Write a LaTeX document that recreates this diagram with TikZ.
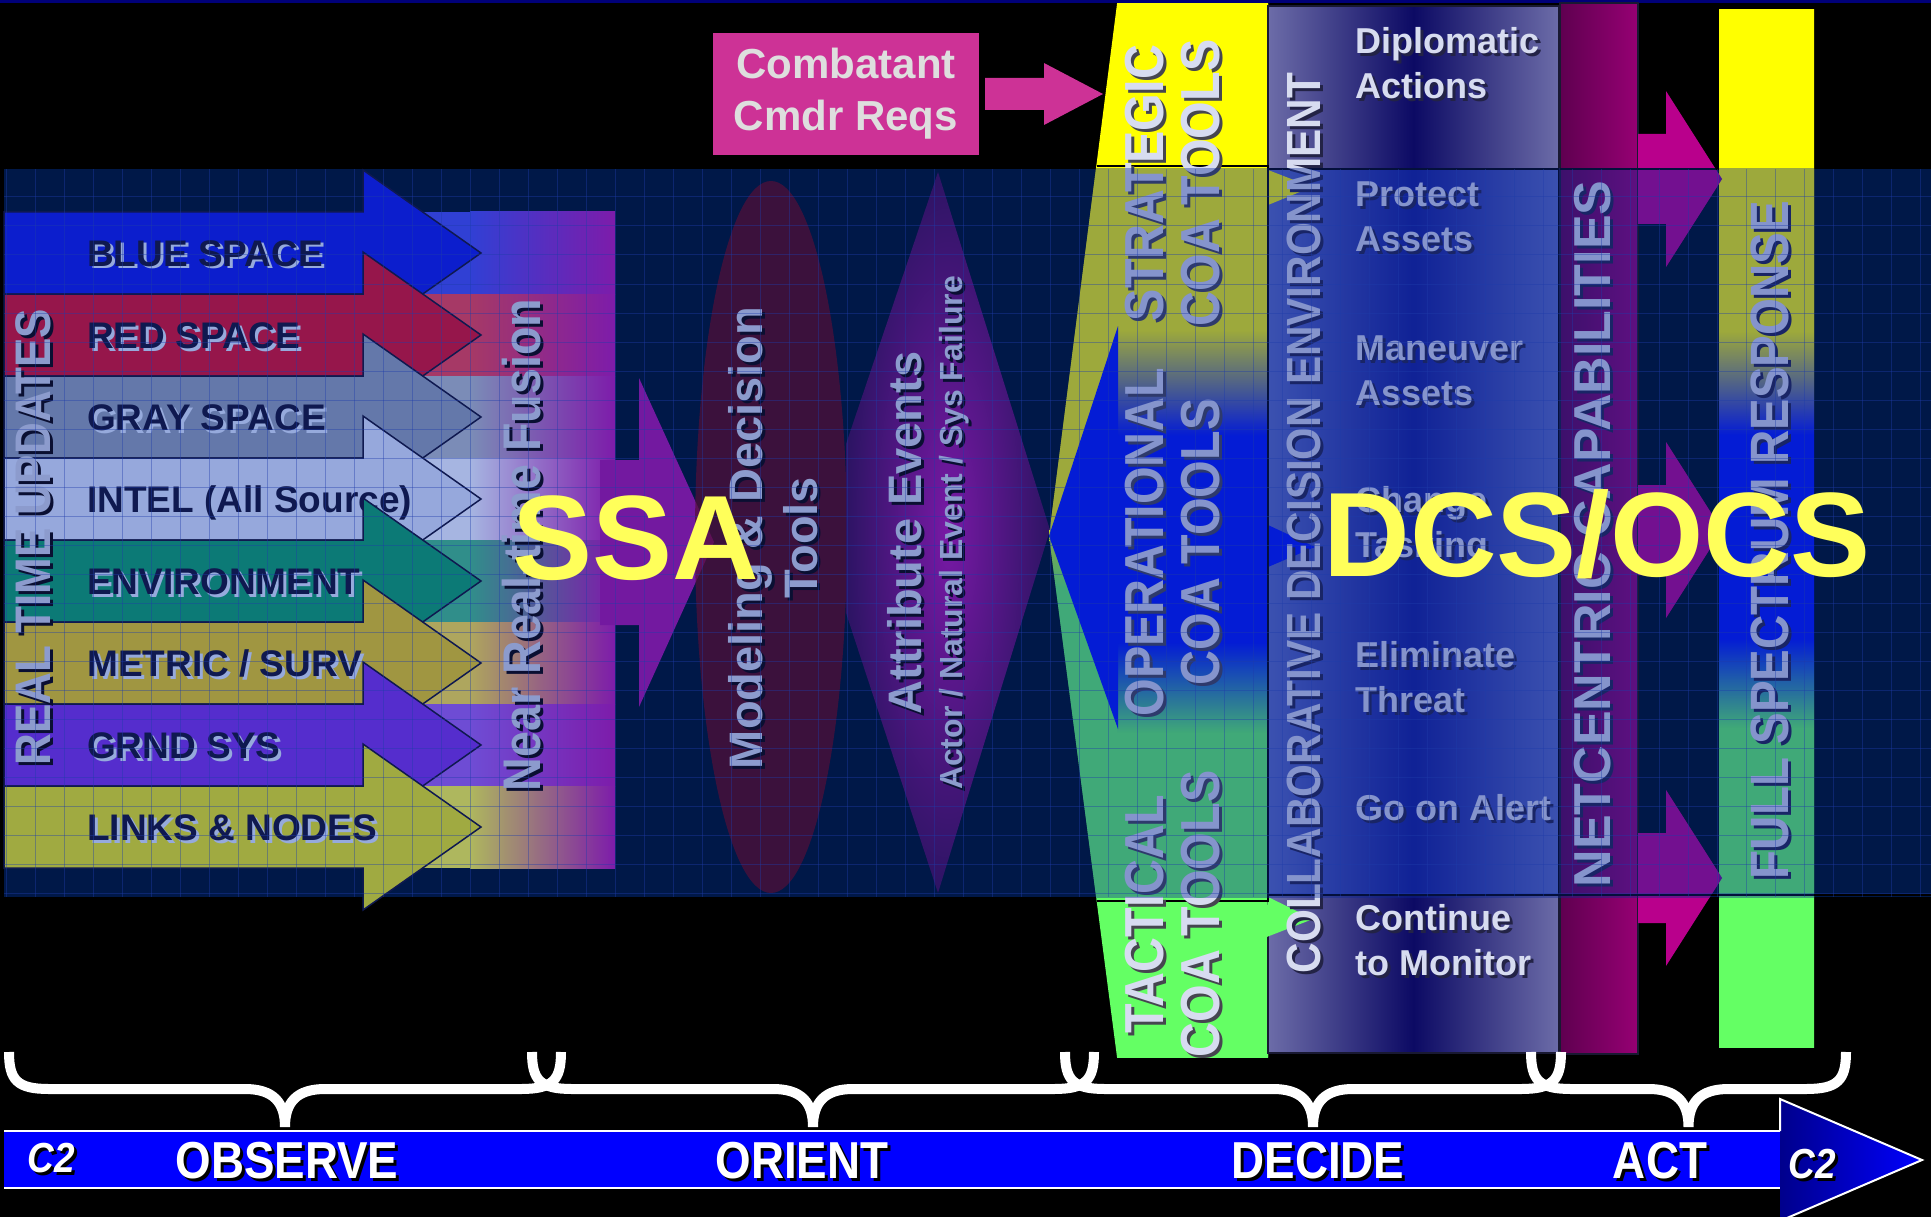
\documentclass[tikz,border=0pt]{standalone}
\usepackage{fontspec}
\setmainfont{Liberation Sans}
\newfontfamily\nfont[FakeStretch=0.88]{Liberation Sans}
\definecolor{bandnavy}{RGB}{0,24,72}
\definecolor{gridblue}{RGB}{30,60,170}
\definecolor{topline}{RGB}{0,0,120}
\definecolor{rowblue}{RGB}{12,30,205}
\definecolor{rowred}{RGB}{150,22,75}
\definecolor{rowgray}{RGB}{100,120,170}
\definecolor{rowintel}{RGB}{150,168,220}
\definecolor{rowenv}{RGB}{12,122,118}
\definecolor{rowmetric}{RGB}{160,150,65}
\definecolor{rowgrnd}{RGB}{85,45,205}
\definecolor{rowlinks}{RGB}{160,170,65}
\definecolor{rowink}{RGB}{15,25,80}
\definecolor{rowglow}{RGB}{150,170,220}
\definecolor{pale}{RGB}{140,155,205}
\definecolor{paleshadow}{RGB}{10,15,50}
\definecolor{fusepurple}{RGB}{125,28,170}
\definecolor{ssapurple}{RGB}{115,25,160}
\definecolor{modelred}{RGB}{85,15,55}
\definecolor{attrin}{RGB}{120,25,165}
\definecolor{attrout}{RGB}{45,20,100}
\definecolor{cmdrpink}{RGB}{205,50,150}
\definecolor{cmdrtext}{RGB}{222,222,222}
\definecolor{coayellow}{RGB}{255,255,0}
\definecolor{coablue}{RGB}{0,20,255}
\definecolor{coagreen}{RGB}{100,255,100}
\definecolor{collight}{RGB}{108,108,168}
\definecolor{coldark}{RGB}{12,10,100}
\definecolor{coledge}{RGB}{25,25,50}
\definecolor{bandlight}{RGB}{93,110,195}
\definecolor{banddark}{RGB}{20,30,150}
\definecolor{netdark}{RGB}{95,0,80}
\definecolor{netlight}{RGB}{150,0,115}
\definecolor{netmag}{RGB}{185,0,140}
\definecolor{colink}{RGB}{215,220,240}
\definecolor{colshadow}{RGB}{35,35,70}
\definecolor{coashadow}{RGB}{70,70,80}
\definecolor{veil}{RGB}{10,40,150}
\definecolor{bigyellow}{RGB}{255,255,90}
\definecolor{barblue}{RGB}{0,0,255}
\definecolor{bardark}{RGB}{0,0,140}
\pgfdeclareverticalshading{coashade}{100bp}{color(0bp)=(coagreen); color(40.4bp)=(coagreen); color(44.7bp)=(coablue); color(54.5bp)=(coablue); color(59.5bp)=(coayellow); color(100bp)=(coayellow)}
\pgfdeclareverticalshading{fanshade}{100bp}{color(0bp)=(coagreen); color(47.3bp)=(coagreen); color(50.6bp)=(coayellow); color(100bp)=(coayellow)}
\newcommand{\shnode}[5]{%
\node[xshift=3pt,yshift=-3pt,#1,text=#4] at (#3) {#5};
\node[#1] (#2) at (#3) {#5};}
\newcommand{\phasebrace}[2]{%
\pgfmathsetmacro{\brmid}{(#1+#2)/2}
\draw[bracestyle] (#1,1052) .. controls (#1,1080) and (#1+8,1089) .. (#1+40,1089)
 -- (\brmid-40,1089) .. controls (\brmid-12,1089) and (\brmid,1102) .. (\brmid,1127)
 .. controls (\brmid,1102) and (\brmid+12,1089) .. (\brmid+40,1089)
 -- (#2-40,1089) .. controls (#2-8,1089) and (#2,1080) .. (#2,1052);}
\begin{document}
\begin{tikzpicture}[x=1pt,y=-1pt,
 rowedge/.style={draw=rowink,line width=1.5pt},
 rowlbl/.style={anchor=base west,inner sep=0pt,font=\bfseries\fontsize{37}{40}\selectfont},
 vlbl/.style={rotate=90,inner sep=0pt,align=center},
 item/.style={anchor=west,inner sep=0pt,align=left,font=\bfseries\fontsize{36}{45}\selectfont},
 phase/.style={anchor=base,inner sep=0pt,font=\nfont\bfseries\fontsize{52}{52}\selectfont},
 bigtag/.style={anchor=base,inner sep=0pt,text=bigyellow,font=\bfseries\fontsize{120}{120}\selectfont},
 gridline/.style={gridblue,line width=1pt,opacity=.4},
 bracestyle/.style={white,line width=10pt},
 veilfill/.style={fill=veil,fill opacity=.4}]
\useasboundingbox (0,0) rectangle (1931,1217);
%фон
\fill[black] (0,0) rectangle (1931,1217);
\fill[topline] (0,0) rectangle (1931,3);
\fill[bandnavy] (4,169) rectangle (1931,897);
%полосы слияния
\foreach \i/\rc in {0/rowblue,1/rowred,2/rowgray,3/rowintel,4/rowenv,5/rowmetric,6/rowgrnd,7/rowlinks}{
 \pgfmathsetmacro{\yt}{212+82*\i}
 \fill[\rc!85!white] (363,\yt) rectangle (470,\yt+82);
 \shade[left color=\rc!85!white,right color=fusepurple] (470,\yt) rectangle (615,\yt+82);
}
%стрелка SSA
\fill[ssapurple] (600,460) -- (639,460) -- (639,378) -- (714,542) -- (639,707) -- (639,625) -- (600,625) -- cycle;
\fill[modelred,opacity=.7] (771,537) ellipse [x radius=76, y radius=356];
\shade[inner color=attrin,outer color=attrout] (938,172) -- (1050,530) -- (938,893) -- (846,613) -- (846,444) -- cycle;
%стрелки наблюдения
\foreach \i/\rc/\rt in {0/rowblue/BLUE SPACE,1/rowred/RED SPACE,2/rowgray/GRAY SPACE,3/rowintel/{INTEL (All Source)},4/rowenv/ENVIRONMENT,5/rowmetric/{METRIC / SURV},6/rowgrnd/GRND SYS,7/rowlinks/{LINKS \& NODES}}{
 \pgfmathsetmacro{\yt}{212+82*\i}
 \pgfmathsetmacro{\yc}{\yt+41}
 \draw[rowedge,fill=\rc] (4,\yt) -- (363,\yt) -- (363,\yc-83) -- (481,\yc) -- (363,\yc+83) -- (363,\yt+82) -- (4,\yt+82) -- cycle;
 \shnode{rowlbl,text=rowink}{row\i}{87,\yc+13}{rowglow}{\rt}
}
%подписи ориентации
\shnode{vlbl,text=pale,font=\nfont\bfseries\fontsize{50}{50}\selectfont}{rtu}{33,537}{paleshadow}{REAL TIME UPDATES}
\shnode{vlbl,text=pale,font=\nfont\bfseries\fontsize{53}{53}\selectfont}{fusion}{522,545}{paleshadow}{Near Real-time Fusion}
\shnode{vlbl,text=pale,font=\bfseries\fontsize{47}{55}\selectfont}{model}{773,538}{paleshadow}{Modeling \& Decision\\Tools}
\shnode{vlbl,text=pale,font=\bfseries\fontsize{47}{47}\selectfont}{attr}{905,533}{paleshadow}{Attribute Events}
\shnode{vlbl,text=pale,font=\bfseries\fontsize{32}{32}\selectfont}{actor}{954,533}{paleshadow}{Actor / Natural Event / Sys Failure}
%веер COA
\shade[shading=fanshade] (1049,536) -- (1117,4) -- (1268,4) -- (1268,1057) -- (1117,1057) -- cycle;
\shade[shading=coashade] (1117,4) rectangle (1268,1057);
\fill[coablue] (1049,536) -- (1118,326) -- (1118,729) -- cycle;
%среда решений
\shade[left color=collight,right color=collight,middle color=coldark] (1268,6) rectangle (1559,1053);
\draw[coledge,line width=1.5pt] (1268,6) rectangle (1559,1053);
\shade[left color=bandlight,right color=bandlight,middle color=banddark] (1268,169) rectangle (1559,895);
\fill[coayellow] (1268,170) -- (1312,187) -- (1268,205) -- cycle;
\fill[coablue] (1268,525) -- (1315,547) -- (1268,567) -- cycle;
\fill[coagreen] (1268,897) -- (1313,919) -- (1264,938) -- cycle;
\draw[black,line width=2pt] (1097,166) -- (1268,166) -- (1268,901) -- (1097,901);
\draw[black,line width=2pt] (1268,169) rectangle (1559,895);
%действие
\shade[shading=coashade] (1719,10) rectangle (1814,1047);
\shade[left color=netdark,right color=netlight] (1560,3) rectangle (1638,1054);
\draw[coledge,line width=1.5pt] (1560,3) rectangle (1638,1054);
\foreach \ac in {179,530,878}
 \fill[netmag] (1638,\ac-45) -- (1666,\ac-45) -- (1666,\ac-88) -- (1722,\ac) -- (1666,\ac+88) -- (1666,\ac+45) -- (1638,\ac+45) -- cycle;
\draw[black,line width=2pt] (1560,169) -- (1719,169);
\draw[black,line width=2pt] (1559,895) -- (1931,895);
%требования
\node[fill=cmdrpink,minimum width=266pt,minimum height=122pt,inner sep=0pt,align=center,text=cmdrtext,font=\bfseries\fontsize{42}{52}\selectfont] (cmdr) at (846,94) {Combatant\\Cmdr Reqs};
\fill[cmdrpink] (985,78) -- (1044,78) -- (1044,63) -- (1103,94) -- (1044,125) -- (1044,110) -- (985,110) -- cycle;
%подписи колонок
\shnode{vlbl,text=colink,font=\nfont\bfseries\fontsize{55}{56}\selectfont}{strat}{1173,183}{coashadow}{STRATEGIC\\COA TOOLS}
\shnode{vlbl,text=colink,font=\nfont\bfseries\fontsize{55}{56}\selectfont}{oper}{1173,542}{coashadow}{OPERATIONAL\\COA TOOLS}
\shnode{vlbl,text=colink,font=\nfont\bfseries\fontsize{55}{56}\selectfont}{tact}{1173,914}{coashadow}{TACTICAL\\COA TOOLS}
\shnode{vlbl,text=colink,font=\nfont\bfseries\fontsize{48}{48}\selectfont}{collab}{1304,523}{colshadow}{COLLABORATIVE DECISION ENVIRONMENT}
\shnode{item,text=colink}{dipl}{1355,63}{colshadow}{Diplomatic\\Actions}
\shnode{item,text=colink}{prot}{1355,217}{colshadow}{Protect\\Assets}
\shnode{item,text=colink}{manv}{1355,371}{colshadow}{Maneuver\\Assets}
\shnode{item,text=colink}{chg}{1355,526}{colshadow}{Change\\Tasking}
\shnode{item,text=colink}{elim}{1355,677}{colshadow}{Eliminate\\Threat}
\shnode{item,text=colink}{alert}{1355,808}{colshadow}{Go on Alert}
\shnode{item,text=colink}{cont}{1355,940}{colshadow}{Continue\\to Monitor}
\shnode{vlbl,text=colink,font=\bfseries\fontsize{52}{52}\selectfont}{net}{1593,534}{colshadow}{NETCENTRIC CAPABILITIES}
\shnode{vlbl,text=colink,font=\nfont\bfseries\fontsize{54}{54}\selectfont}{fsr}{1770,540}{colshadow}{FULL SPECTRUM RESPONSE}
%вуаль сетки
\begin{scope}
\clip (4,169) rectangle (1931,897);
\fill[veilfill] (1049,536) -- (1117,4) -- (1268,4) -- (1268,1057) -- (1117,1057) -- cycle;
\fill[veilfill] (1268,4) rectangle (1559,1053);
\fill[veilfill] (1559,3) rectangle (1638,1054);
\fill[veilfill] (1719,10) rectangle (1814,1047);
\foreach \ac in {179,530,878}
 \fill[veilfill] (1638,\ac-45) -- (1666,\ac-45) -- (1666,\ac-88) -- (1722,\ac) -- (1666,\ac+88) -- (1666,\ac+45) -- (1638,\ac+45) -- cycle;
\end{scope}
\foreach \gx in {6,35,...,1920} \draw[gridline] (\gx,169) -- (\gx,897);
\foreach \gy in {197,226,...,893} \draw[gridline] (4,\gy) -- (1931,\gy);
\node[bigtag] (ssa) at (636,579) {SSA};
\node[bigtag] (dcs) at (1597,576) {DCS/OCS};
%фигурные скобки
\phasebrace{9}{561}
\phasebrace{532}{1094}
\phasebrace{1065}{1561}
\phasebrace{1531}{1846}
%шкала C2
\fill[barblue] (4,1131) rectangle (1780,1188);
\draw[white,line width=2pt] (4,1131) -- (1780,1131) (4,1188) -- (1780,1188);
\shade[left color=bardark,right color=barblue] (1780,1099) -- (1922,1160) -- (1780,1221) -- cycle;
\draw[white,line width=2pt] (1780,1131) -- (1780,1099) -- (1922,1160) -- (1780,1221);
\shnode{phase,text=white,font=\nfont\bfseries\itshape\fontsize{42}{42}\selectfont}{ctwo}{51,1172}{black}{C2}
\shnode{phase,text=white}{observe}{287,1178}{black}{OBSERVE}
\shnode{phase,text=white}{orient}{802,1178}{black}{ORIENT}
\shnode{phase,text=white}{decide}{1318,1178}{black}{DECIDE}
\shnode{phase,text=white}{act}{1660,1178}{black}{ACT}
\shnode{phase,text=white,font=\nfont\bfseries\itshape\fontsize{42}{42}\selectfont}{ctwoend}{1812,1178}{black}{C2}
\end{tikzpicture}
\end{document}
